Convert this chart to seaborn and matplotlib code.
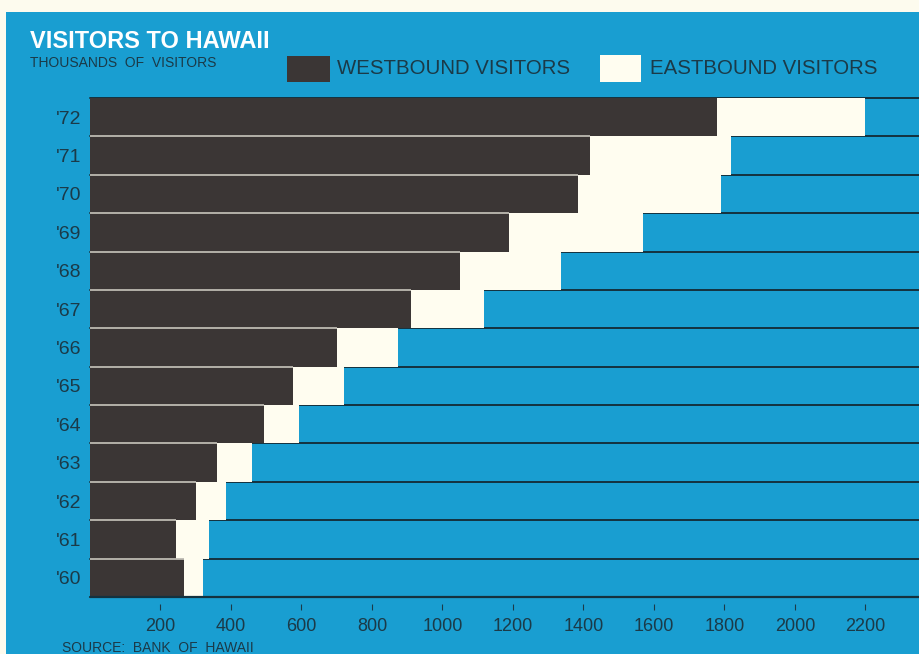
import matplotlib
matplotlib.use("Agg")
import matplotlib.pyplot as plt
from matplotlib.patches import Rectangle
import seaborn as sns
import pandas as pd

# Visitors to Hawaii, thousands per year (most recent year on top)
years = ["'72", "'71", "'70", "'69", "'68", "'67", "'66", "'65", "'64", "'63", "'62", "'61", "'60"]
westbound = [1780, 1420, 1385, 1190, 1050, 910, 700, 575, 495, 360, 300, 245, 268]
eastbound = [420, 398, 405, 380, 285, 207, 173, 145, 97, 100, 87, 93, 53]
x_ticks = [200, 400, 600, 800, 1000, 1200, 1400, 1600, 1800, 2000, 2200]

BLUE = "#199ed1"
DARK = "#3b3635"
CREAM = "#fffdf0"
PAPER = "#fdfbee"
INK = "#1b3a48"
LINE = "#14323f"
SEP = "#bdbab2"

sns.set_theme(style="white")
plt.rcParams["font.family"] = ["Liberation Sans", "DejaVu Sans"]

df = pd.DataFrame({
    "year": years,
    "west": westbound,
    "east": eastbound,
})
df["total"] = df["west"] + df["east"]

fig = plt.figure(figsize=(9.2, 6.54), dpi=100, facecolor=PAPER)
W, H = 920, 654
# blue printed sheet (paper margin on top and left)
fig.patches.append(Rectangle((6 / W, 0), 1 - 6 / W, 1 - 12 / H,
                             transform=fig.transFigure, facecolor=BLUE,
                             edgecolor="none", zorder=-10))

ax = fig.add_axes([90 / W, 1 - 597 / H, 1 - 90 / W, (597 - 98) / H])
ax.set_facecolor("none")
ax.set_zorder(1)

# row separators over the blue field
for i in range(len(years)):
    ax.axhline(i - 0.5, color=LINE, lw=1.4, zorder=0.5, clip_on=False)

# stacked bars: total (eastbound on the end) under westbound
sns.barplot(data=df, x="total", y="year", order=years, orient="h",
            color=CREAM, width=1.0, linewidth=0, saturation=1, ax=ax, zorder=1)
sns.barplot(data=df, x="west", y="year", order=years, orient="h",
            color=DARK, width=1.0, linewidth=0, saturation=1, ax=ax, zorder=2)

# light rules along the top of each westbound bar
for i in range(1, len(years)):
    ax.hlines(i - 0.5, 0, westbound[i], color=SEP, lw=1.3, zorder=3)
# bottom rule
ax.axhline(len(years) - 0.5, color=LINE, lw=1.6, zorder=3, clip_on=False)

ax.set_xlim(0, 2355)
ax.set_ylim(len(years) - 0.5, -0.5)
ax.set_xlabel("")
ax.set_ylabel("")
for s in ax.spines.values():
    s.set_visible(False)
ax.spines["bottom"].set_position(("outward", 5))

ax.set_xticks(x_ticks)
ax.set_xticklabels([str(t) for t in x_ticks])
ax.tick_params(axis="x", bottom=True, length=4, width=0.8, color=INK,
               pad=6, labelsize=13, labelcolor=INK)
ax.tick_params(axis="y", left=False, length=0, pad=6, labelsize=14,
               labelcolor=INK)

# titles
fig.text(30 / W, 1 - 41 / H, "VISITORS TO HAWAII", color="white",
         fontsize=17, fontweight="bold", ha="left", va="center")
fig.text(30 / W, 1 - 63 / H, "THOUSANDS  OF  VISITORS", color=INK,
         fontsize=10, ha="left", va="center")
fig.text(62 / W, 1 - 648 / H, "SOURCE:  BANK  OF  HAWAII", color=INK,
         fontsize=10, ha="left", va="center")

# legend keys
fig.patches.append(Rectangle((287 / W, 1 - 82 / H), 43 / W, 26 / H,
                             transform=fig.transFigure, facecolor=DARK,
                             edgecolor="none", zorder=2))
fig.text(337 / W, 1 - 68 / H, "WESTBOUND VISITORS", color=INK,
         fontsize=14.7, ha="left", va="center")
fig.patches.append(Rectangle((600 / W, 1 - 82 / H), 41 / W, 27 / H,
                             transform=fig.transFigure, facecolor=CREAM,
                             edgecolor="none", zorder=2))
fig.text(650 / W, 1 - 68 / H, "EASTBOUND VISITORS", color=INK,
         fontsize=14.7, ha="left", va="center")

fig.savefig("out.png", dpi=100, facecolor=PAPER)
